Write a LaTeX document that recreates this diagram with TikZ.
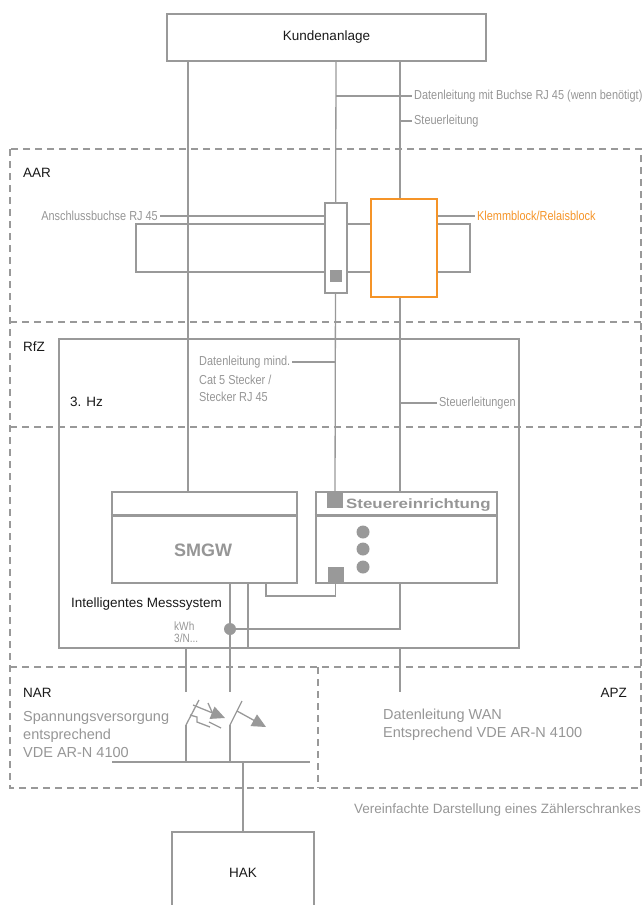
\documentclass[tikz,border=0pt]{standalone}
\usepackage{fontspec}
\setmainfont{Liberation Sans}
\newfontfamily\condfont[FakeStretch=0.84]{Liberation Sans}
\newfontfamily\widefont[FakeStretch=1.25]{Liberation Sans}
\usetikzlibrary{arrows.meta}
\pgfdeclarelayer{bg}
\pgfsetlayers{bg,main}
\definecolor{lgray}{RGB}{153,153,153}
\definecolor{tgray}{RGB}{150,150,150}
\definecolor{orng}{RGB}{245,148,40}
\definecolor{tblack}{RGB}{25,25,25}

\begin{document}
\begin{tikzpicture}[x=1pt, y=-1pt,
    ln/.style={draw=lgray, line width=1.3pt},
    box/.style={draw=lgray, line width=1.3pt, fill=white, inner sep=0pt},
    thk/.style={draw=lgray, line width=2.6pt, inner sep=0pt},
    dsh/.style={draw=lgray, line width=1.3pt, dash pattern=on 7pt off 5pt},
    sq/.style={fill=lgray, inner sep=0pt, minimum size=#1},
    dot/.style={circle, fill=lgray, inner sep=0pt, minimum size=#1},
    blk/.style={text=tblack, font=\fontsize{13.5}{16}\selectfont},
    gl/.style={text=tgray, font=\condfont\fontsize{13}{17.5}\selectfont, inner xsep=2pt, inner ysep=0pt},
    gt/.style={text=tgray, font=\fontsize{14.5}{18}\selectfont, inner sep=0pt, align=left},
    tip/.style={-{Triangle[length=14pt,width=13pt]}}]
    \useasboundingbox (0,0) rectangle (643,905);

    % boxes
    \node[box, blk, minimum width=319pt, minimum height=47pt] (ka) at (326.5,37.5) {Kundenanlage};
    \node[draw=lgray, line width=1.3pt, minimum width=334pt, minimum height=48pt] (sch) at (303,248) {};
    \node[box, minimum width=22pt, minimum height=90pt] (rj) at (336,248) {};
    \node[sq=12pt] (rjp) at (335.5,276) {};
    \node[box, draw=orng, minimum width=66pt, minimum height=98pt] (kb) at (404,248) {};
    \node[thk, minimum width=460pt, minimum height=309pt] (hz) at (289,493.5) {};
    \node[thk, fill=white, minimum width=185pt, minimum height=91pt] (gw) at (204.5,537.5) {};
    \node[thk, fill=white, minimum width=181pt, minimum height=91pt] (se) at (406.5,537.5) {};
    \draw[lgray, line width=2.6pt] ([yshift=-25pt]gw.north west) -- ([yshift=-25pt]gw.north east);
    \draw[lgray, line width=2.6pt] ([yshift=-25pt]se.north west) -- ([yshift=-25pt]se.north east);
    \node[text=tgray, font=\bfseries\fontsize{18}{20}\selectfont] (gwt) at (203,550) {SMGW};
    \node[anchor=west, inner sep=0pt, text=tgray, font=\widefont\bfseries\fontsize{13.5}{16}\selectfont] (set) at (346,505) {Steuereinrichtung};
    \node[sq=16pt] (sp1) at (335,500) {};
    \node[sq=16pt] (sp2) at (335.5,575) {};
    \foreach \y [count=\i] in {532,549,567}
        \node[dot=13pt] (d\i) at (363,\y) {};
    \node[dot=12pt] (jd) at (230,629) {};
    \node[box, blk, minimum width=142pt, minimum height=82pt] (hak) at (243,873) {HAK};

    % labels
    \node[gl, anchor=west] (t1) at (412,96) {Datenleitung mit Buchse RJ 45 (wenn benötigt)};
    \node[gl, anchor=west] (t2) at (412,121) {Steuerleitung};
    \node[gl, anchor=east] (t3) at (160,216) {Anschlussbuchse RJ 45};
    \node[gl, anchor=west, text=orng] (t4) at (475,216) {Klemmblock/Relaisblock};
    \node[gl, anchor=west] (t5) at (197,362) {Datenleitung mind.};
    \node[gl, anchor=west] (t6) at (197,380) {Cat 5 Stecker /};
    \node[gl, anchor=west] (t7) at (197,397) {Stecker RJ 45};
    \node[gl, anchor=west] (t8) at (437,403) {Steuerleitungen};
    \node[blk, anchor=west, inner sep=0pt] (aar) at (23,173) {AAR};
    \node[blk, anchor=west, inner sep=0pt] (rfz) at (23,347) {RfZ};
    \node[blk, anchor=west, inner sep=0pt] (hz3) at (70,402) {3. Hz};
    \node[blk, anchor=west, inner sep=0pt] (ims) at (71,604) {Intelligentes Messsystem};
    \node[gl, anchor=west, inner xsep=0pt, align=left, font=\condfont\fontsize{12}{11.5}\selectfont] (kwh) at (174,632) {kWh\\3/N...};
    \node[blk, anchor=west, inner sep=0pt] (nar) at (23,693) {NAR};
    \node[blk, anchor=east, inner sep=0pt] (apz) at (627,693) {APZ};
    \node[gt, anchor=west] (spv) at (23,734) {Spannungsversorgung\\entsprechend\\VDE AR-N 4100};
    \node[gt, anchor=west] (wan) at (383,725) {Datenleitung WAN\\Entsprechend VDE AR-N 4100};
    \node[gt, anchor=east, font=\fontsize{13.5}{16}\selectfont] (ver) at (641,810) {Vereinfachte Darstellung eines Zählerschrankes};

    % pins
    \coordinate (p1) at (188,492);
    \coordinate (p3) at (400,583);
    \coordinate (p4) at (266,583);
    \coordinate (p6) at (248,583);
    \coordinate (s1t) at (186,692);
    \coordinate (s2t) at (230,692);
    \coordinate (s1b) at (186,725);
    \coordinate (s2b) at (230,725);
    \coordinate (wt) at (400,692);
    \coordinate (bl) at (112,762);
    \coordinate (br) at (310,762);

    \begin{pgfonlayer}{bg}
        % zones
        \draw[dsh] (10,149) rectangle (641,788);
        \draw[dsh] (10,322) -- (641,322);
        \draw[dsh] (10,427) -- (641,427);
        \draw[dsh] (10,667) -- (641,667);
        \draw[dsh] (318,667) -- (318,788);

        % lines
        \draw[ln] (ka.south -| p1) -- (p1);
        \draw[ln] (ka.south -| rj) -- (sp1);
        \draw[ln] (ka.south -| p3) -- (se.north -| p3);
        \draw[ln] (t1.west -| rj) -- (t1.west);
        \draw[ln] (t2.west -| p3) -- (t2.west);
        \draw[ln] (t3.east) -- (t3.east -| rj.west);
        \draw[ln] (kb.east |- t4.west) -- (t4.west);
        \draw[ln] (t5.east) -- (t5.east -| rj);
        \draw[ln] (t8.west -| p3) -- (t8.west);
        \draw[ln] (p4) -- ++(0,13) -| (sp2.south);
        \draw[ln] (p3) -- (p3 |- jd) -- (jd);
        \draw[ln] (gw.south -| jd) -- (s2t);
        \draw[ln] (p6) -- (p6 |- hz.south);
        \draw[ln] (hz.south -| s1t) -- (s1t);
        \draw[ln] (hz.south -| wt) -- (wt);

        % switches
        \draw[ln] (s1b) -- (s1b |- bl);
        \draw[ln] (s2b) -- (s2b |- bl);
        \draw[ln] (s1b) -- ++(13,-25);
        \draw[ln] (s2b) -- ++(12,-24);
        \draw[ln, tip] (193,705) -- (225,718);
        \draw[ln] (208,703) -- (212,712);
        \draw[ln] (190,715) -- (197,717) -- (197,722) -- (210,727);
        \draw[ln] (209,722) -- (221,728);
        \draw[ln, tip] (237,711) -- (266,727);
        \draw[ln] (bl) -- (br);
        \draw[ln] (hak.north) -- (hak.north |- bl);
    \end{pgfonlayer}
\end{tikzpicture}
\end{document}
